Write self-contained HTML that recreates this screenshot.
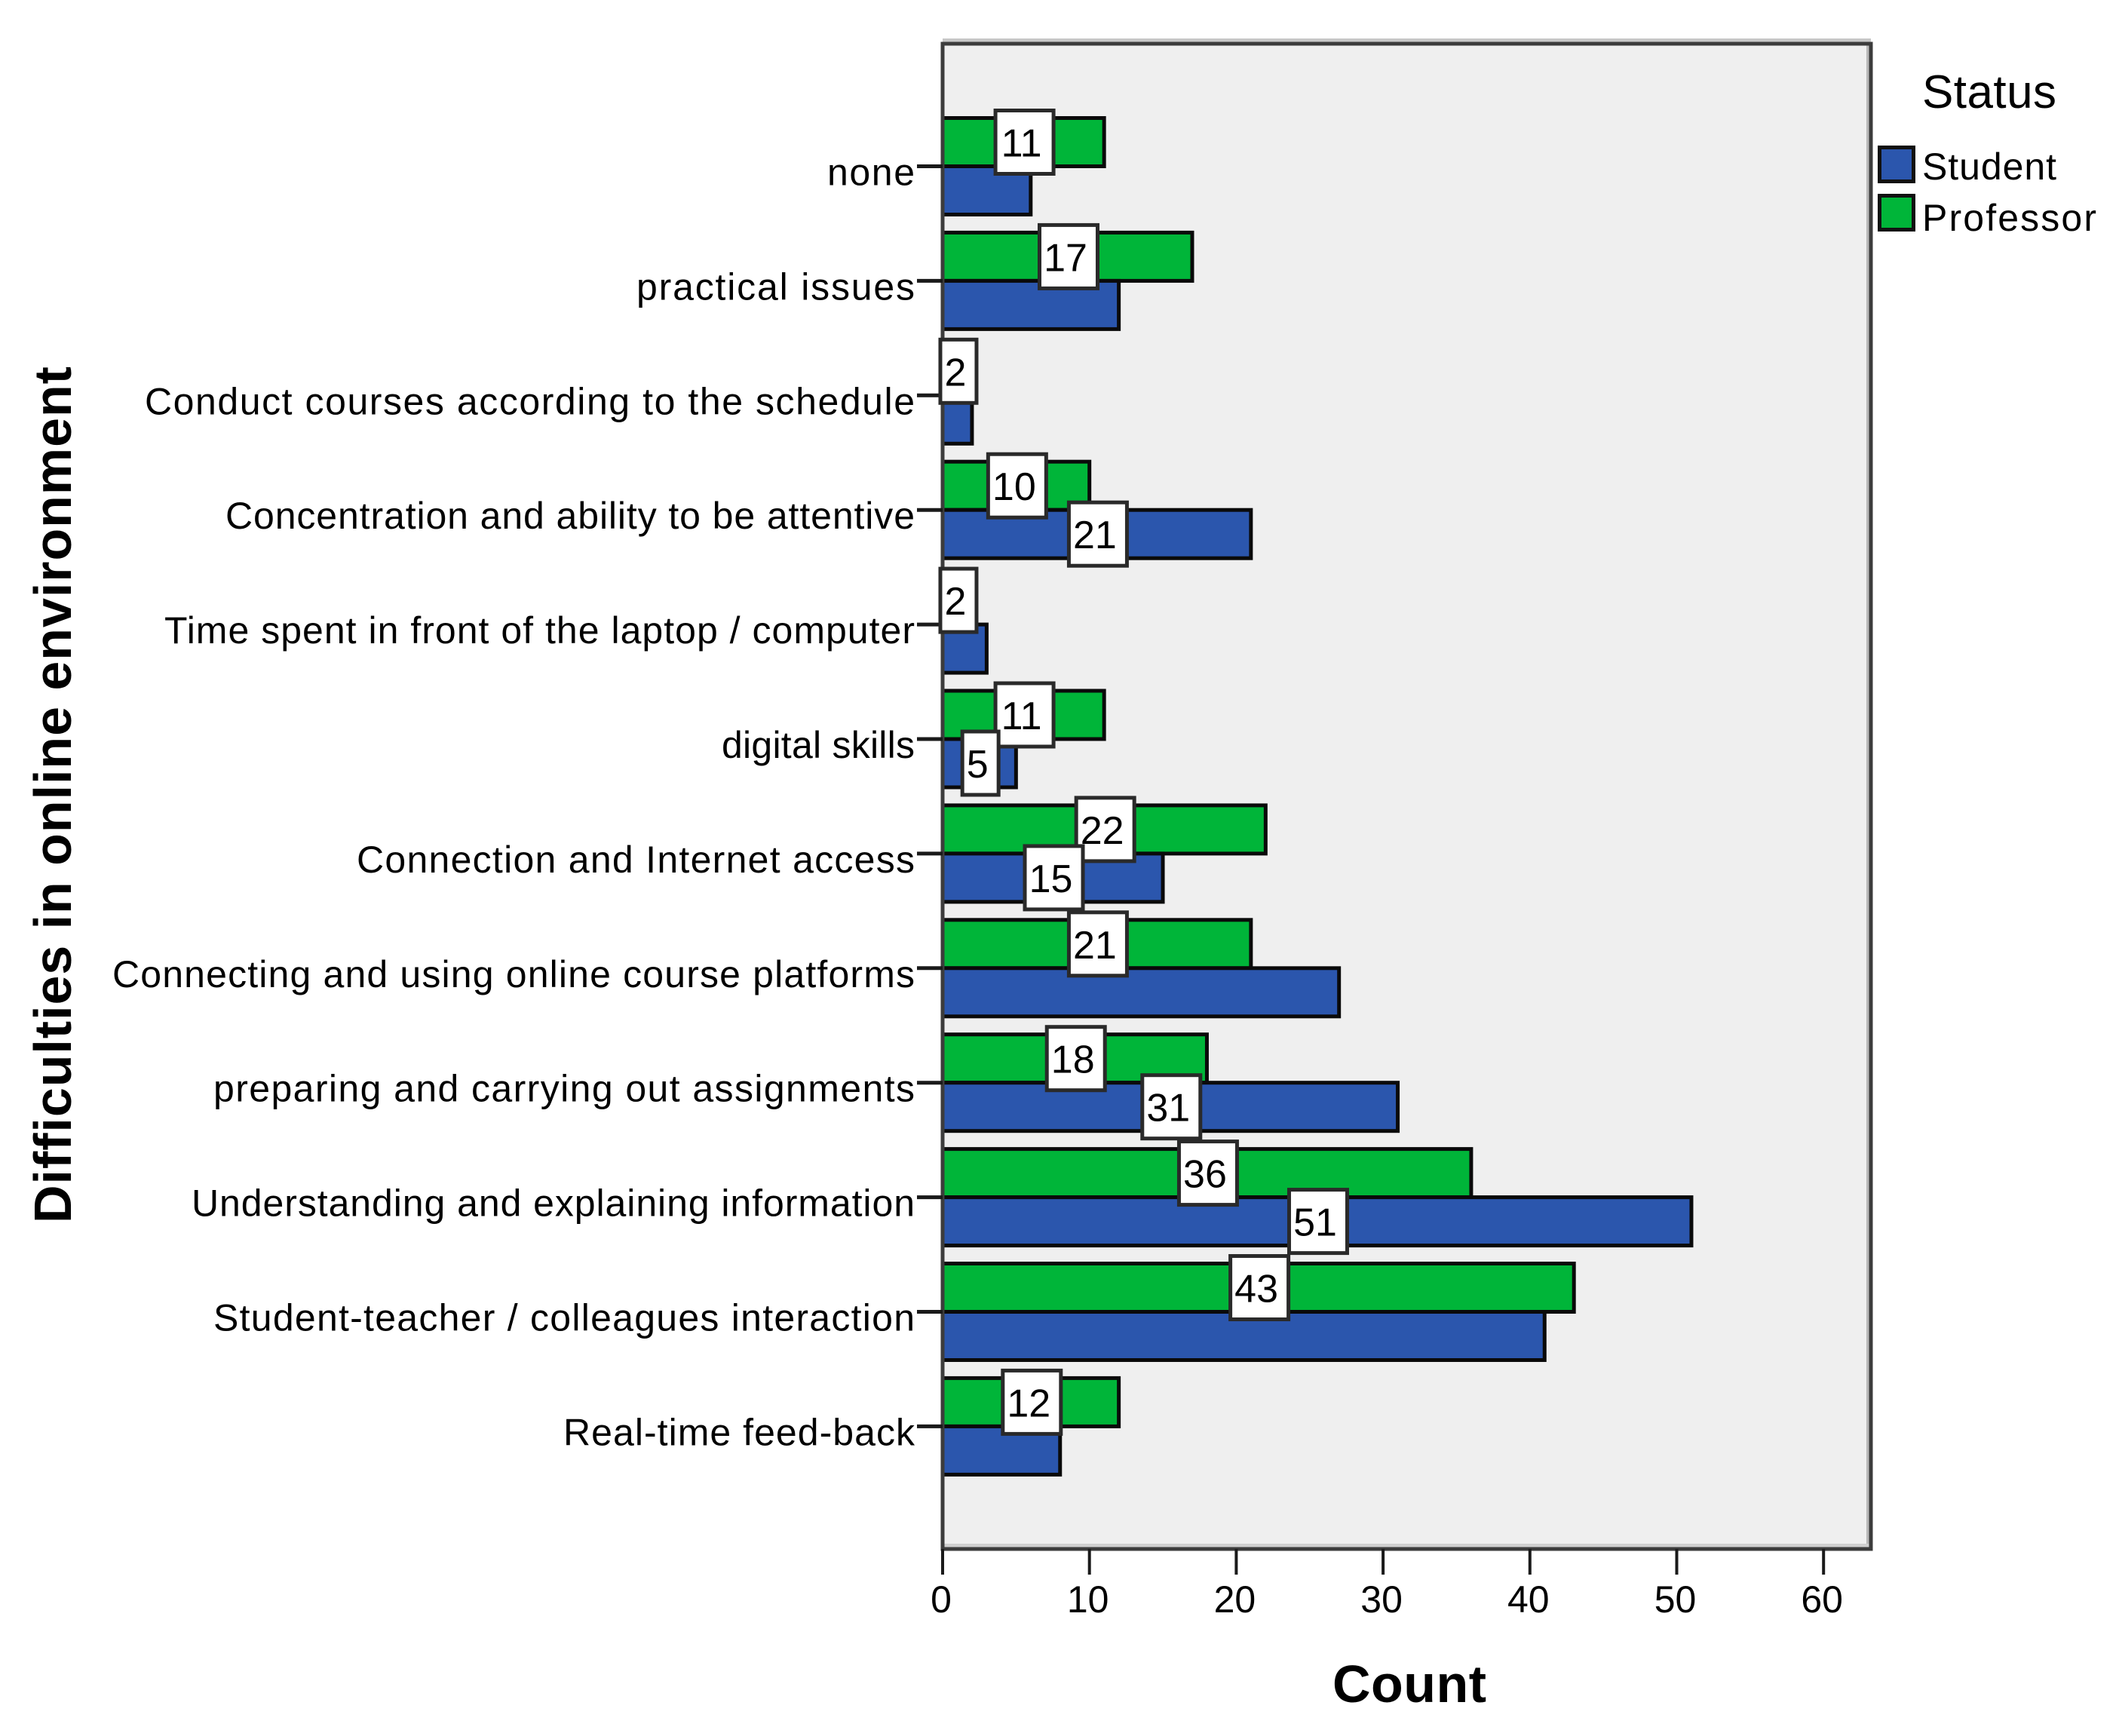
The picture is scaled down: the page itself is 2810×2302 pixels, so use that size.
<!DOCTYPE html>
<html lang="en">
<head>
<meta charset="utf-8">
<title>Difficulties in online environment</title>
<style>
html,body{margin:0;padding:0;background:#fff}
svg{display:block}
text{font-family:"Liberation Sans",Arial,sans-serif;fill:#000}
</style>
</head>
<body>
<svg id="chart" xmlns="http://www.w3.org/2000/svg" width="2810" height="2302" viewBox="0 0 2810 2302">
  <rect x="0" y="0" width="2810" height="2302" fill="#fff"/>
  <rect x="1250" y="58" width="1231" height="1996" fill="#efefef"/>
  <rect x="1250" y="51" width="1231" height="5" fill="#c8c8c8"/>
  <rect x="2475" y="60" width="4" height="1992" fill="#b8b8b8"/>
  <rect x="1252" y="2047" width="1228" height="5" fill="#d0d0d0"/>
  <g id="bars"></g>
  <rect x="1250" y="58" width="1231" height="1996" fill="none" stroke="#3c3c3c" stroke-width="5"/>
  <g id="axes"></g>
  <g id="labels"></g>
  <text transform="translate(94,1622) rotate(-90)" font-size="70" font-weight="700" textLength="1136" lengthAdjust="spacing">Difficulties in online environment</text>
  <text x="1767" y="2257" font-size="70" font-weight="700" textLength="204" lengthAdjust="spacing">Count</text>
  <g>
    <text x="2549" y="143" font-size="62" textLength="178" lengthAdjust="spacing">Status</text>
    <rect x="2492.5" y="195.5" width="45" height="45" fill="#2b56ad" stroke="#111" stroke-width="5"/>
    <text x="2549" y="238" font-size="50" textLength="178" lengthAdjust="spacing">Student</text>
    <rect x="2492.5" y="259.5" width="45" height="45" fill="#00b539" stroke="#111" stroke-width="5"/>
    <text x="2549" y="306" font-size="50" textLength="231" lengthAdjust="spacing">Professor</text>
  </g>
</svg>
<script>
const categories = [
  "none",
  "practical issues",
  "Conduct courses according to the schedule",
  "Concentration and ability to be attentive",
  "Time spent in front of the laptop / computer",
  "digital skills",
  "Connection and Internet access",
  "Connecting and using online course platforms",
  "preparing and carrying out assignments",
  "Understanding and explaining information",
  "Student-teacher / colleagues interaction",
  "Real-time feed-back"
];
const studentValues = [6, 12, 2, 21, 3, 5, 15, 27, 31, 51, 41, 8];
const professorValues = [11, 17, 2, 10, 2, 11, 22, 21, 18, 36, 43, 12];
const studentLabelShown = [false, false, false, true, false, true, true, false, true, true, false, false];
const xTickValues = [0, 10, 20, 30, 40, 50, 60];

const NS = 'http://www.w3.org/2000/svg';
const xScale = v => 1250 + v * 19.47;
const yScale = i => 220.5 + i * 151.9;
const BAR_H = 64;
const barsG = document.getElementById('bars');
const axesG = document.getElementById('axes');
const labelsG = document.getElementById('labels');

/* Typographic fit: rendered run length of each axis label, keyed by its text. */
const labelFit = new Map();
labelFit.set("none", 116);
labelFit.set("practical issues", 369);
labelFit.set("Conduct courses according to the schedule", 1021);
labelFit.set("Concentration and ability to be attentive", 914);
labelFit.set("Time spent in front of the laptop / computer", 995);
labelFit.set("digital skills", 256);
labelFit.set("Connection and Internet access", 740);
labelFit.set("Connecting and using online course platforms", 1064);
labelFit.set("preparing and carrying out assignments", 930);
labelFit.set("Understanding and explaining information", 959);
labelFit.set("Student-teacher / colleagues interaction", 930);
labelFit.set("Real-time feed-back", 466);

function make(tag, attrs, parent, text) {
  const el = document.createElementNS(NS, tag);
  for (const k in attrs) el.setAttribute(k, attrs[k]);
  if (text !== undefined) el.textContent = text;
  parent.appendChild(el);
  return el;
}

function drawBar(value, yTop, fill, parent) {
  return make('rect', {
    x: xScale(0), y: yTop, width: xScale(value) - xScale(0), height: BAR_H,
    fill: fill, stroke: '#0a0a0a', 'stroke-width': 5
  }, parent);
}

function drawLabel(value, yCenter, parent) {
  const txt = String(value);
  const w = txt.length > 1 ? 77 : 48;
  const cx = (xScale(0) + xScale(value)) / 2 + 1.5;
  const g = make('g', {}, parent);
  
  
  make('rect', {
    x: cx - w / 2, y: yCenter - 42, width: w, height: 84,
    fill: '#ffffff', stroke: '#2a2a2a', 'stroke-width': 5
  }, g);
  make('text', {
    x: cx - 4, y: yCenter + 19, 'font-size': 52, 'text-anchor': 'middle'
  }, g, txt);
}

categories.forEach((name, i) => {
  const tick = yScale(i);
  const green = drawBar(professorValues[i], tick - BAR_H, '#00b539', barsG);
  
  
  const blue = drawBar(studentValues[i], tick, '#2b56ad', barsG);
  
  
  const tickLine = make('line', { x1: 1216, x2: 1250, y1: tick, y2: tick, stroke: '#1a1a1a', 'stroke-width': 5 }, axesG);
  
  
  const catLabel = make('text', {
    x: 1213, y: tick + 25, 'font-size': 50, 'text-anchor': 'end',
    textLength: labelFit.get(name), lengthAdjust: 'spacing'
  }, axesG, name);
  
  
});

xTickValues.forEach(v => {
  const x = xScale(v);
  const tickLine = make('line', { x1: x, x2: x, y1: 2054, y2: 2088, stroke: '#1a1a1a', 'stroke-width': 4 }, axesG);
  
  
  const tickLabel = make('text', {
    x: x - 2, y: 2138, 'font-size': 50, 'text-anchor': 'middle'
  }, axesG, String(v));
  
  
});

categories.forEach((name, i) => {
  drawLabel(professorValues[i], yScale(i) - BAR_H / 2, labelsG);
});
categories.forEach((name, i) => {
  if (studentLabelShown[i]) drawLabel(studentValues[i], yScale(i) + BAR_H / 2, labelsG);
});
</script>
</body>
</html>
